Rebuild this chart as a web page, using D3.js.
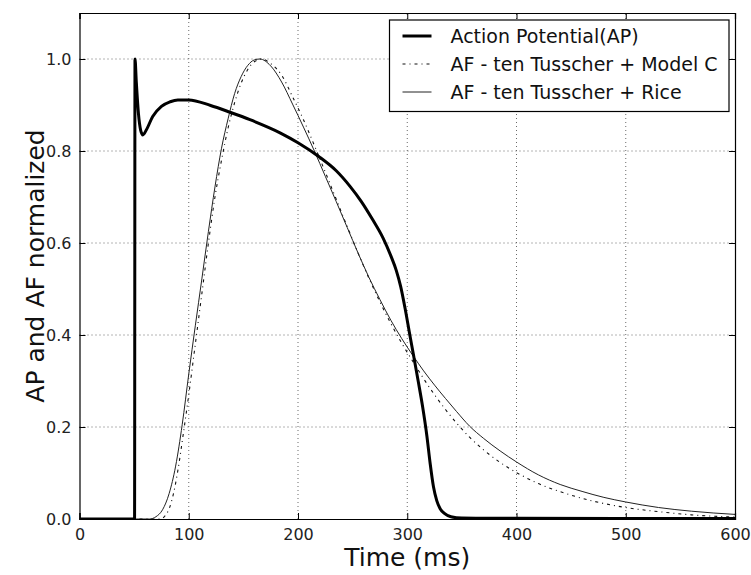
<!DOCTYPE html>
<html>
<head>
<meta charset="utf-8">
<script src="https://cdn.jsdelivr.net/npm/d3@7"></script>
<style>
  body { margin: 0; background: #fff; }
  text { font-family: "DejaVu Sans", sans-serif; }
</style>
</head>
<body>
<div id="chart"></div>
<script>
// size of the whole picture
const width = 751
const height = 575
const margin = { top: 12, right: 16, bottom: 57, left: 79.5 }

// values: time (ms) and normalized value
const apTime = [0, 50.4, 50.8, 52, 54, 56, 58, 61, 67, 75, 83, 90, 100, 120, 138, 156, 184, 200, 219, 235, 248, 258, 268, 278, 285, 290, 294, 298, 302, 306, 310, 314, 318, 321, 324, 327, 330, 334, 340, 350, 400, 600]
const apValue = [0, 0, 1.0, 0.95, 0.88, 0.845, 0.835, 0.845, 0.875, 0.897, 0.907, 0.911, 0.911, 0.899, 0.884, 0.868, 0.839, 0.818, 0.788, 0.757, 0.722, 0.69, 0.652, 0.61, 0.572, 0.54, 0.505, 0.458, 0.405, 0.353, 0.30, 0.245, 0.18, 0.12, 0.07, 0.04, 0.023, 0.012, 0.005, 0.002, 0.0015, 0.001]

const modelCTime = [0, 74, 78, 82, 86, 90, 95, 100, 106, 112, 118, 124, 130, 136, 142, 148, 154, 160, 167, 175, 185, 195, 205, 215, 225, 235, 245, 255, 265, 275, 285, 295, 305, 315, 325, 335, 345, 357, 370, 385, 400, 420, 443, 470, 500, 530, 560, 600]
const modelCValue = [0, 0, 0.006, 0.022, 0.055, 0.105, 0.185, 0.27, 0.38, 0.49, 0.60, 0.70, 0.78, 0.85, 0.905, 0.948, 0.977, 0.994, 1.0, 0.99, 0.965, 0.918, 0.868, 0.812, 0.754, 0.695, 0.636, 0.578, 0.523, 0.472, 0.425, 0.382, 0.343, 0.305, 0.27, 0.238, 0.209, 0.178, 0.15, 0.123, 0.101, 0.077, 0.057, 0.039, 0.025, 0.016, 0.009, 0.004]

const riceTime = [0, 64, 70, 76, 82, 88, 94, 100, 106, 112, 118, 124, 130, 136, 142, 148, 154, 160, 165, 175, 185, 195, 205, 215, 225, 235, 245, 255, 265, 275, 285, 295, 305, 315, 325, 335, 345, 357, 370, 385, 400, 420, 440, 460, 480, 500, 530, 560, 600]
const riceValue = [0, 0, 0.005, 0.02, 0.055, 0.115, 0.205, 0.315, 0.42, 0.522, 0.625, 0.722, 0.806, 0.87, 0.925, 0.962, 0.986, 0.998, 1.0, 0.985, 0.95, 0.902, 0.852, 0.80, 0.745, 0.69, 0.634, 0.578, 0.525, 0.477, 0.432, 0.392, 0.356, 0.322, 0.291, 0.262, 0.234, 0.202, 0.175, 0.148, 0.124, 0.096, 0.075, 0.06, 0.047, 0.037, 0.025, 0.017, 0.010]

const legendLabels = ["Action Potential(AP)", "AF - ten Tusscher + Model C", "AF - ten Tusscher + Rice"]
const xTicks = [0, 100, 200, 300, 400, 500, 600]
const yTicks = [0.0, 0.2, 0.4, 0.6, 0.8, 1.0]

const svg = d3.select("#chart")
    .append("svg")
    .attr("width", width)
    .attr("height", height)

const x = d3.scaleLinear().domain([0, 600]).range([margin.left, width - margin.right])
const y = d3.scaleLinear().domain([0, 1.1]).range([height - margin.bottom + 1, margin.top + 1])

// dotted grid
svg.append("g")
    .selectAll("line")
    .data(xTicks.slice(1, -1))
    .join("line")
    .attr("x1", d => x(d)).attr("x2", d => x(d))
    .attr("y1", y(0)).attr("y2", y(1.1))
    .attr("stroke", "#444")
    .attr("stroke-width", 0.8)
    .attr("stroke-dasharray", "1,3")
svg.append("g")
    .selectAll("line")
    .data(yTicks.slice(1))
    .join("line")
    .attr("x1", x(0)).attr("x2", x(600))
    .attr("y1", d => y(d)).attr("y2", d => y(d))
    .attr("stroke", "#444")
    .attr("stroke-width", 0.8)
    .attr("stroke-dasharray", "1,3")

// curves
const line = d3.line()
    .x(d => x(d[0]))
    .y(d => y(d[1]))
    .curve(d3.curveMonotoneX)

const series = [
    { t: modelCTime, v: modelCValue, width: 1.1, dash: "3,4,1,4", color: "#111" },
    { t: riceTime, v: riceValue, width: 1, dash: null, color: "#222" },
    { t: apTime, v: apValue, width: 3, dash: null, color: "#000" }
]

svg.append("defs").append("clipPath").attr("id", "clip")
    .append("rect")
    .attr("x", x(0)).attr("y", y(1.1))
    .attr("width", x(600) - x(0)).attr("height", y(0) - y(1.1))

svg.append("g")
    .attr("clip-path", "url(#clip)")
    .selectAll("path")
    .data(series)
    .join("path")
    .attr("d", s => line(s.t.map((t, i) => [t, s.v[i]])))
    .attr("fill", "none")
    .attr("stroke", s => s.color)
    .attr("stroke-width", s => s.width)
    .attr("stroke-dasharray", s => s.dash)
    .attr("stroke-linejoin", "round")

// axes, ticks pointing inside like classic matplotlib
const xAxis = svg.append("g")
    .attr("transform", "translate(0," + y(0) + ")")
    .call(d3.axisBottom(x).tickValues(xTicks).tickSize(-6).tickPadding(10).tickFormat(d3.format("d")))
const yAxis = svg.append("g")
    .attr("transform", "translate(" + x(0) + ",0)")
    .call(d3.axisLeft(y).tickValues(yTicks).tickSize(-6).tickPadding(8).tickFormat(d3.format(".1f")))
svg.append("g")
    .attr("transform", "translate(0," + y(1.1) + ")")
    .call(d3.axisTop(x).tickValues(xTicks).tickSize(-6).tickFormat(""))
svg.append("g")
    .attr("transform", "translate(" + x(600) + ",0)")
    .call(d3.axisRight(y).tickValues(yTicks).tickSize(-6).tickFormat(""))

svg.selectAll(".domain").attr("stroke", "#000").attr("stroke-width", 1.2)
svg.selectAll(".tick line").attr("stroke", "#000")
xAxis.selectAll("text").attr("font-size", 16).attr("fill", "#222")
yAxis.selectAll("text").attr("font-size", 16).attr("fill", "#222")

// axis titles
svg.append("text")
    .attr("x", (x(0) + x(600)) / 2)
    .attr("y", 566)
    .attr("text-anchor", "middle")
    .attr("font-size", 25)
    .attr("fill", "#111")
    .text("Time (ms)")
svg.append("text")
    .attr("transform", "translate(44," + ((y(0) + y(1.1)) / 2) + ") rotate(-90)")
    .attr("text-anchor", "middle")
    .attr("font-size", 25)
    .attr("fill", "#111")
    .text("AP and AF normalized")

// legend
const legend = svg.append("g").attr("transform", "translate(389.5,20)")
legend.append("rect")
    .attr("width", 339.5)
    .attr("height", 91.5)
    .attr("fill", "#fff")
    .attr("stroke", "#000")
    .attr("stroke-width", 1.2)
const legendStyles = [series[2], series[0], series[1]]
legend.selectAll("line")
    .data(legendLabels)
    .join("line")
    .attr("x1", 13).attr("x2", 42)
    .attr("y1", (d, i) => 16 + i * 28).attr("y2", (d, i) => 16 + i * 28)
    .attr("stroke", (d, i) => legendStyles[i].color)
    .attr("stroke-width", (d, i) => legendStyles[i].width)
    .attr("stroke-dasharray", (d, i) => legendStyles[i].dash)
legend.selectAll("text")
    .data(legendLabels)
    .join("text")
    .attr("x", 61)
    .attr("y", (d, i) => 16 + i * 28)
    .attr("dy", "0.35em")
    .attr("font-size", 19)
    .attr("fill", "#111")
    .text(d => d)
</script>
</body>
</html>
